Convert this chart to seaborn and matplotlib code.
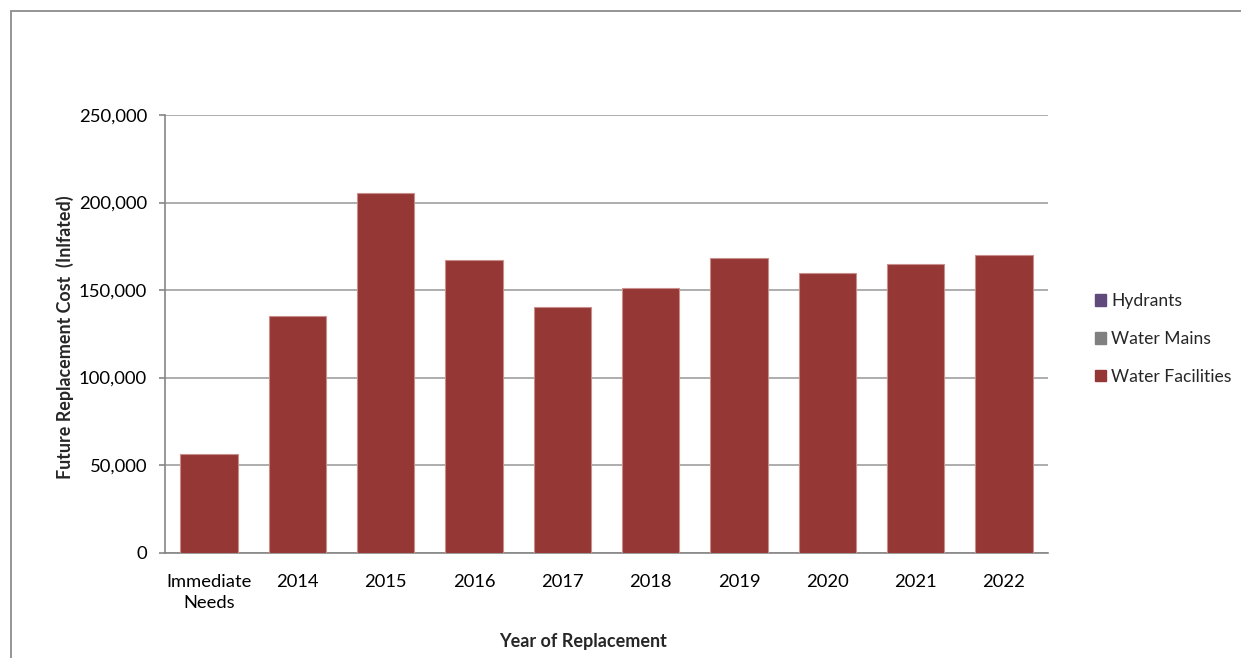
import matplotlib
matplotlib.use("Agg")
import matplotlib.pyplot as plt
import matplotlib.patches as mpatches
from matplotlib.ticker import FuncFormatter, MultipleLocator
import pandas as pd
import seaborn as sns

# Replacement schedule data
categories = ["Immediate\nNeeds", "2014", "2015", "2016", "2017",
              "2018", "2019", "2020", "2021", "2022"]
hydrants = [0, 0, 0, 0, 0, 0, 0, 0, 0, 0]
water_mains = [0, 0, 0, 0, 0, 0, 0, 0, 0, 0]
water_facilities = [56200, 135200, 205400, 167300, 140200,
                    151100, 168200, 159700, 164800, 169900]

series_names = ["Water Facilities", "Water Mains", "Hydrants"]
series_colors = {"Water Facilities": "#953735",
                 "Water Mains": "#808080",
                 "Hydrants": "#604A7B"}

sns.set_theme(style="white")
plt.rcParams["font.family"] = ["Lato", "DejaVu Sans"]

W, H = 1241, 658
fig = plt.figure(figsize=(W / 100, H / 100), dpi=100)
ax = fig.add_axes([165 / W, 1 - 552.7 / H, (1048 - 165) / W, (552.7 - 115) / H])

# Stack the three series bottom-up
bottoms = [0] * len(categories)
for name, vals in zip(series_names, [water_facilities, water_mains, hydrants]):
    df = pd.DataFrame({"cat": categories, "val": [b + v for b, v in zip(bottoms, vals)]})
    if any(vals):
        sns.barplot(data=df, x="cat", y="val", ax=ax, color=series_colors[name],
                    width=0.65, saturation=1, edgecolor="#c98f8d", linewidth=0.8,
                    order=categories, zorder=3)
    bottoms = [b + v for b, v in zip(bottoms, vals)]

ax.set_ylim(0, 250000)
ax.set_xlim(-0.5, len(categories) - 0.5)
ax.yaxis.set_major_locator(MultipleLocator(50000))
ax.yaxis.set_major_formatter(FuncFormatter(lambda v, p: f"{int(v):,}"))
ax.grid(axis="y", color="#a0a0a0", linewidth=1.2, zorder=0)
ax.set_axisbelow(True)

for s in ["top", "right"]:
    ax.spines[s].set_visible(False)
for s in ["left", "bottom"]:
    ax.spines[s].set_color("#868686")
    ax.spines[s].set_linewidth(1.2)

ax.tick_params(axis="y", labelsize=13.3, colors="black", length=4, width=1.2,
               color="#868686", pad=9, left=True)
ax.tick_params(axis="x", labelsize=13.2, colors="black", length=0, pad=15.5)
for lbl in ax.get_xticklabels():
    lbl.set_linespacing(1.35)
ax.set_xlabel("")
ax.set_ylabel("")

fig.text(65 / W, 1 - 337 / H, "Future Replacement Cost  (Inlfated)",
         rotation=90, ha="center", va="center", fontsize=12.9, fontweight="bold")
fig.text(583 / W, 1 - 641 / H, "Year of Replacement",
         ha="center", va="center", fontsize=13, fontweight="bold")

# Legend, top entry = last stacked series
handles = [mpatches.Patch(color=series_colors[n], label=n)
           for n in ["Hydrants", "Water Mains", "Water Facilities"]]
fig.legend(handles=handles, loc="center left", bbox_to_anchor=(1095 / W, 1 - 339 / H),
           frameon=False, fontsize=12.6, handlelength=0.62, handleheight=0.62,
           handletextpad=0.3, labelspacing=1.25, borderaxespad=0, borderpad=0)

# Chart area border
fig.patches.append(mpatches.Rectangle((10.5 / W, -0.1), 1.2, 1.1 - 11.5 / H,
                                      transform=fig.transFigure, fill=False,
                                      edgecolor="#8c8c8c", linewidth=1.3))

fig.savefig("out.png", dpi=100)
